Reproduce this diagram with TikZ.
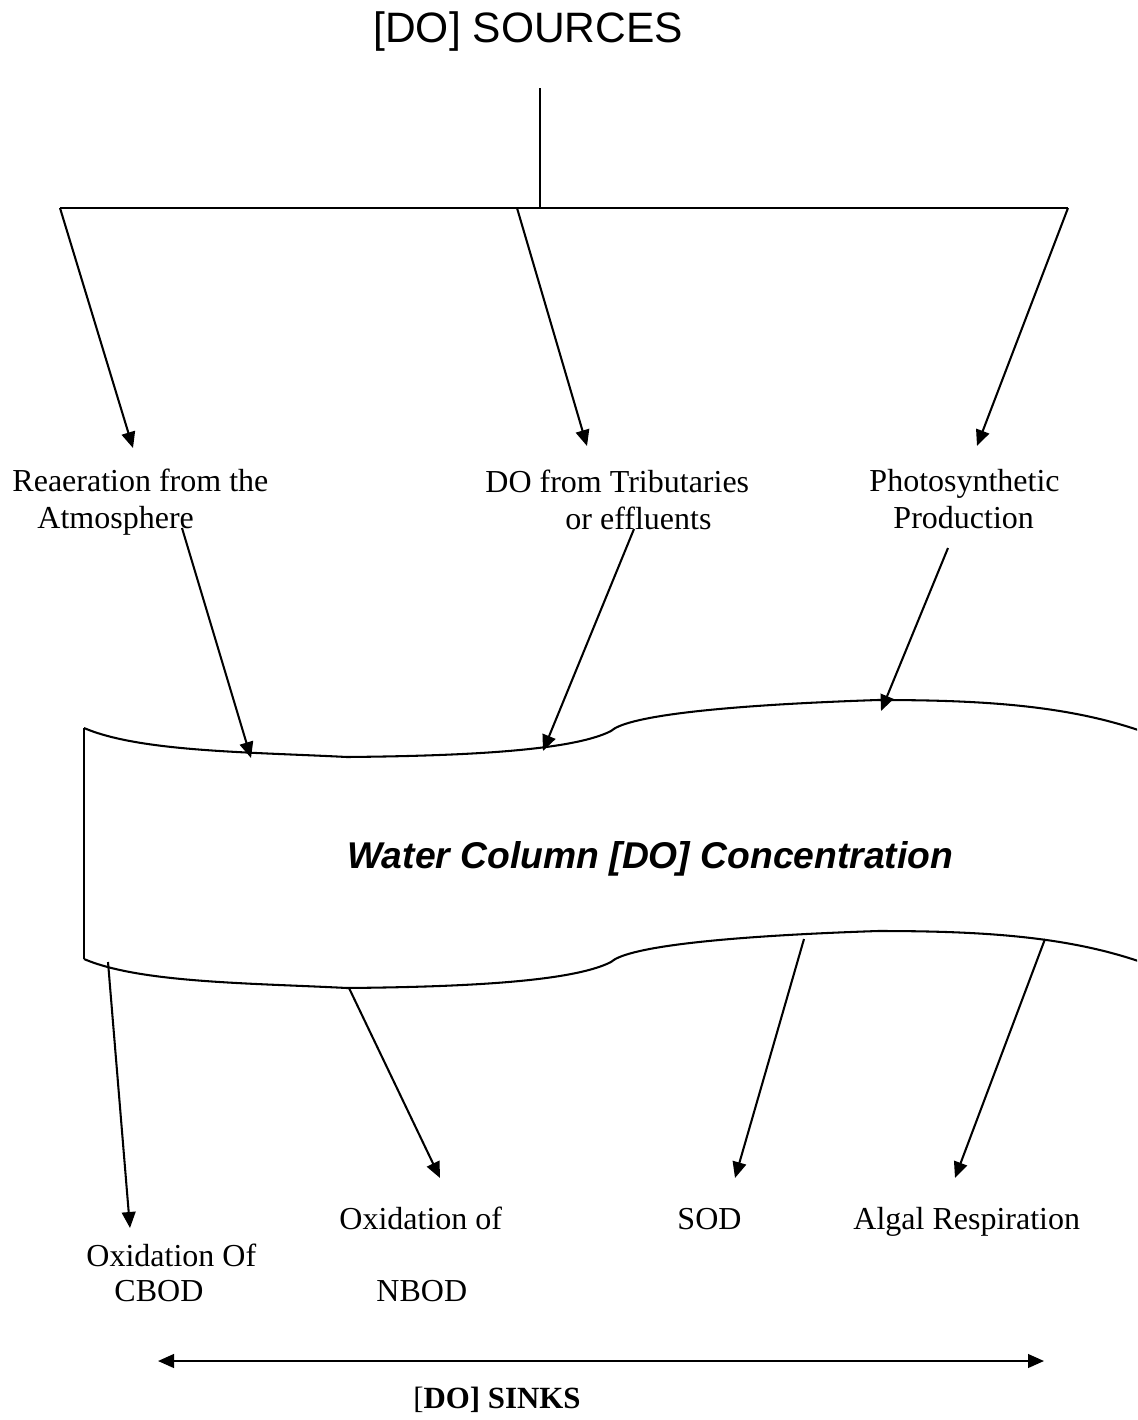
\documentclass[tikz,border=0pt]{standalone}
\usepackage{fontspec}
\setmainfont{Liberation Serif}
\newfontfamily\arialfont{Liberation Sans}
\usetikzlibrary{arrows.meta}

\tikzset{
  lbl/.style={anchor=base west, inner sep=0pt, font=\fontsize{14}{16.2}\selectfont},
  wire/.style={line width=0.9pt},
  arr/.style={wire, -{Triangle[length=7pt,width=6pt]}},
  band/.style={line width=0.9pt, line join=round}
}

\begin{document}
\begin{tikzpicture}[x=0.4375pt, y=-0.4375pt]
\useasboundingbox (0,0) rectangle (1137,1420);
\clip (0,0) rectangle (1137,1420);

% ---- sources header ----
\node[lbl, font=\arialfont\fontsize{18.6}{21}\selectfont] (title) at (373,42) {[DO] SOURCES};
\coordinate (stem) at (540,88);
\coordinate (hub) at (540,208);
\coordinate (barL) at (60,208);
\coordinate (barR) at (1068,208);
\coordinate (barM) at (517,208);
\draw[wire] (stem) -- (hub);
\draw[line width=1.1pt] (barL) -- (barR);

% ---- source labels ----
\node[lbl] (rea1) at (12,491) {Reaeration from the};
\node[lbl] (rea2) at (37,528) {Atmosphere};
\node[lbl] (trib1) at (485,492) {DO from Tributaries};
\node[lbl] (trib2) at (565,529) {or effluents};
\node[lbl] (pho1) at (869,491) {Photosynthetic};
\node[lbl] (pho2) at (893,528) {Production};

\coordinate (reaIn) at (133,448);
\coordinate (tribIn) at (587,446);
\coordinate (phoIn) at (977,446);
\draw[arr] (barL) -- (reaIn);
\draw[arr] (barM) -- (tribIn);
\draw[arr] (barR) -- (phoIn);

% ---- water column band ----
\foreach \dy in {0,231}{
  \draw[band, shift={(0,\dy)}]
    (84,728) .. controls (140,752) and (250,752) .. (347,757)
             .. controls (450,756) and (570,752) .. (611,731)
             .. controls (625,718) and (700,706) .. (878,700)
             .. controls (990,700) and (1080,706) .. (1160,738);
}
\draw[band] (84,728) -- (84,959);
\node[lbl, font=\arialfont\bfseries\itshape\fontsize{16.3}{19}\selectfont] (water) at (347,868) {Water Column [DO] Concentration};

% ---- inflows to the band ----
\coordinate (reaOut) at (182,528);
\coordinate (tribOut) at (634,529);
\coordinate (phoOut) at (948,548);
\coordinate (bandA) at (251,758);
\coordinate (bandB) at (543,751);
\coordinate (bandC) at (881,711);
\draw[arr] (reaOut) -- (bandA);
\draw[arr] (tribOut) -- (bandB);
\draw[arr] (phoOut) -- (bandC);

% ---- sinks ----
\coordinate (outA) at (108,962);
\coordinate (outB) at (349,988);
\coordinate (outC) at (804,939);
\coordinate (outD) at (1045,939);
\coordinate (cbodIn) at (130,1228);
\coordinate (nbodIn) at (440,1178);
\coordinate (sodIn) at (735,1178);
\coordinate (algIn) at (955,1178);
\draw[arr] (outA) -- (cbodIn);
\draw[arr] (outB) -- (nbodIn);
\draw[arr] (outC) -- (sodIn);
\draw[arr] (outD) -- (algIn);

\node[lbl] (cbod1) at (86,1266) {Oxidation Of};
\node[lbl] (cbod2) at (114,1301) {CBOD};
\node[lbl] (nbod1) at (339,1229) {Oxidation of};
\node[lbl] (nbod2) at (376,1301) {NBOD};
\node[lbl] (sod) at (677,1229) {SOD};
\node[lbl] (alg) at (853,1229) {Algal Respiration};

% ---- sinks span ----
\coordinate (spanL) at (158,1361);
\coordinate (spanR) at (1044,1361);
\draw[wire, {Triangle[length=7pt,width=6pt]}-{Triangle[length=7pt,width=6pt]}] (spanL) -- (spanR);
\node[lbl, anchor=base, font=\fontsize{13.5}{15}\selectfont] (sinks) at (497,1408) {[\textbf{DO] SINKS}};
\end{tikzpicture}
\end{document}
